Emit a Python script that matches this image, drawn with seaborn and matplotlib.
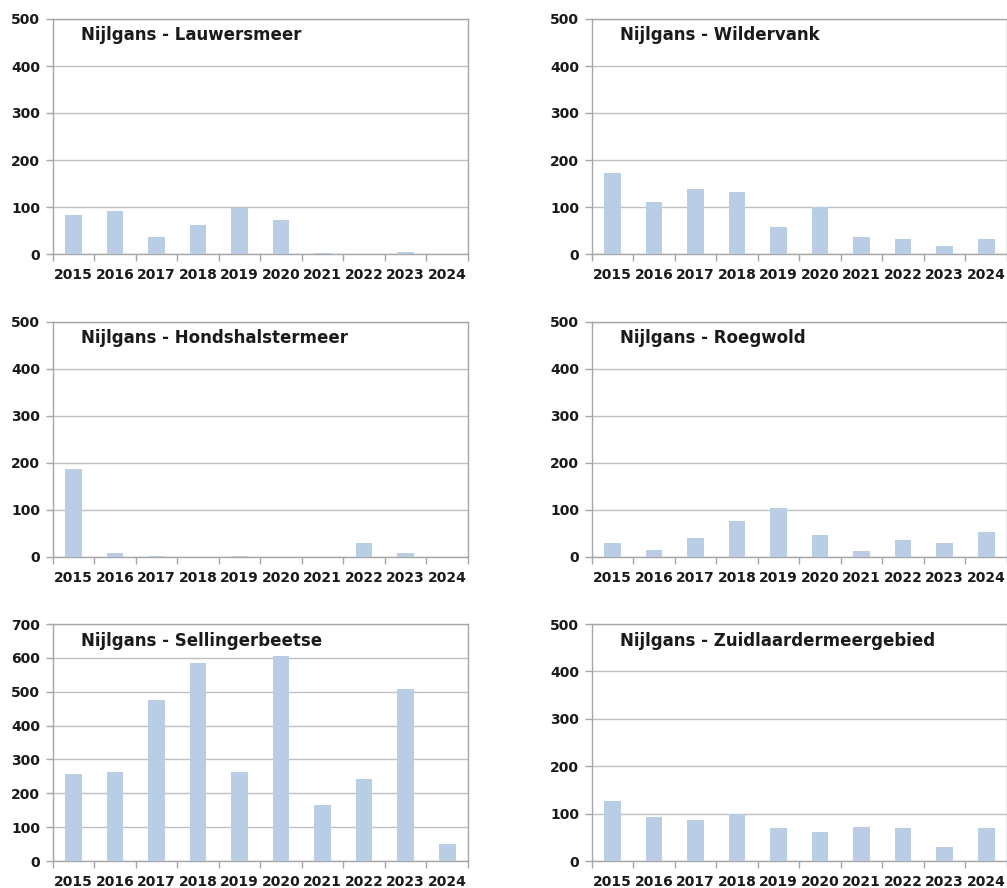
import matplotlib

matplotlib.use("Agg")

import matplotlib.pyplot as plt
import numpy as np
import pandas as pd
import seaborn as sns

years = [str(y) for y in range(2015, 2025)]

lauwersmeer = [83, 91, 36, 62, 97, 72, 2, 0, 4, 0]
wildervank = [172, 111, 138, 132, 57, 100, 36, 31, 17, 31]
hondshalstermeer = [187, 9, 2, 0, 2, 0, 0, 29, 9, 0]
roegwold = [29, 15, 41, 76, 104, 46, 13, 37, 29, 54]
sellingerbeetse = [257, 262, 477, 584, 262, 606, 164, 242, 508, 51]
zuidlaardermeergebied = [126, 92, 86, 100, 70, 62, 72, 69, 29, 70]

panels = [
    ("Nijlgans - Lauwersmeer", lauwersmeer, 500),
    ("Nijlgans - Wildervank", wildervank, 500),
    ("Nijlgans - Hondshalstermeer", hondshalstermeer, 500),
    ("Nijlgans - Roegwold", roegwold, 500),
    ("Nijlgans - Sellingerbeetse", sellingerbeetse, 700),
    ("Nijlgans - Zuidlaardermeergebied", zuidlaardermeergebied, 500),
]

BAR = "#B9CDE5"
GRID = "#BFBFBF"
SPINE = "#A6A6A6"

sns.set_style("white")
plt.rcParams["font.family"] = ["DejaVu Sans"]

W, H = 1007, 888
fig = plt.figure(figsize=(W / 100, H / 100), dpi=100)

# axes boxes in pixels: left, top, right, bottom
cols = [(52.7, 468.0), (591.7, 1007.0)]
rows = [(19.0, 254.0), (321.7, 557.0), (624.0, 861.0)]

for i, (title, values, ymax) in enumerate(panels):
    left, right = cols[i % 2]
    top, bottom = rows[i // 2]
    ax = fig.add_axes([left / W, 1 - bottom / H, (right - left) / W, (bottom - top) / H])
    frame = pd.DataFrame({"year": years, "count": values})
    sns.barplot(data=frame, x="year", y="count", color=BAR, width=0.4,
                saturation=1, linewidth=0, ax=ax, zorder=3)
    ax.set_xlim(-0.5, len(years) - 0.5)
    ax.set_ylim(0, ymax)
    ax.set_yticks(np.arange(0, ymax + 1, 100))
    ax.yaxis.grid(True, color=GRID, linewidth=1.0, zorder=0)
    ax.set_axisbelow(True)
    ax.set_xlabel("")
    ax.set_ylabel("")
    for side in ["top", "right", "left", "bottom"]:
        ax.spines[side].set_visible(True)
        ax.spines[side].set_color(SPINE)
        ax.spines[side].set_linewidth(1.0)
    ax.set_xticks(np.arange(-0.5, len(years), 1.0), minor=True)
    ax.tick_params(axis="x", which="minor", bottom=True, length=5,
                   color=SPINE, width=1, direction="out")
    ax.tick_params(axis="x", which="major", bottom=True, length=0, pad=10)
    ax.tick_params(axis="y", which="major", left=True, length=5,
                   color=SPINE, width=1, pad=4, direction="out")
    for lab in ax.get_xticklabels() + ax.get_yticklabels():
        lab.set_fontsize(10)
        lab.set_fontweight("bold")
        lab.set_color("#1a1a1a")
    ax.text(0.067, 0.93, title, transform=ax.transAxes, ha="left", va="center",
            fontsize=12, fontweight="semibold", color="#1a1a1a")

fig.savefig("out.png", dpi=100)
plt.close(fig)
